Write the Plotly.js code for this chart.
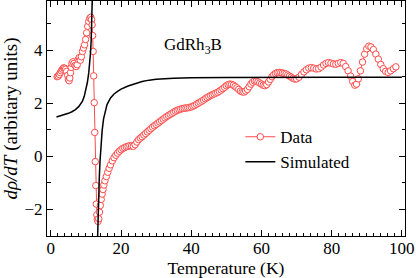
<!DOCTYPE html>
<html>
<head>
<meta charset="utf-8">
<script src="https://cdn.plot.ly/plotly-3.0.1.min.js"></script>
<style>html,body{margin:0;padding:0;background:#fff;}#chart{width:416px;height:278px;}</style>
</head>
<body>
<div id="chart"></div>
<script>
// Measured data (temperature in K, dρ/dT in arbitrary units)
const dataT = [1.8,2.1,2.4,2.7,3.0,3.3,3.6,3.9,4.2,4.5,4.8,5.0,5.2,5.4,5.6,5.8,6.0,6.3,6.6,6.9,7.2,7.5,7.8,8.1,8.4,8.7,9.0,9.3,9.6,9.9,10.2,10.5,10.8,11.1,11.4,11.6,11.75,11.9,12.05,12.2,12.35,12.5,12.65,12.8,12.95,13.1,13.25,13.45,13.65,13.85,14.1,14.35,14.6,14.85,15.1,15.4,15.8,16.2,16.6,17.0,17.5,18.0,18.5,19.0,19.5,20.0,20.5,21.0,21.5,22.0,22.5,23.0,23.5,24.0,24.5,25.0,25.5,26.0,26.5,27.0,27.5,28.0,28.5,29.0,29.5,30.0,30.5,31.0,31.5,32.0,32.5,33.0,33.5,34.0,34.5,35.0,35.5,36.0,36.5,37.0,37.5,38.0,38.5,39.0,39.5,40.0,40.5,41.0,41.5,42.0,42.5,43.0,43.5,44.0,44.5,45.0,45.5,46.0,46.5,47.0,47.5,48.0,48.5,49.0,49.5,50.0,50.5,51.0,51.5,52.0,52.5,53.0,53.5,54.0,54.5,55.0,55.5,56.0,56.5,57.0,57.5,58.0,58.5,59.0,59.5,60.0,60.5,61.0,61.5,62.0,62.5,63.0,63.5,64.0,64.5,65.0,65.5,66.0,66.5,67.0,67.5,68.0,68.5,69.0,69.5,70.0,70.7,71.4,72.1,72.8,73.5,74.2,74.9,75.6,76.3,77.0,77.7,78.4,79.1,79.8,80.5,81.2,81.9,82.6,83.3,84.0,84.7,85.4,86.0,86.6,87.1,87.6,88.2,88.8,89.4,90.0,90.6,91.2,91.9,92.6,93.3,94.0,94.7,95.4,96.1,96.8,97.6,98.3,99.0,99.8];
const dataY = [3.00,3.02,3.08,3.15,3.22,3.28,3.33,3.32,3.28,3.20,3.05,2.90,2.85,2.95,3.15,3.35,3.50,3.56,3.50,3.42,3.38,3.45,3.65,3.72,3.62,3.75,3.95,4.08,4.20,4.40,4.65,4.90,5.08,5.20,5.24,5.15,4.95,4.55,3.95,3.03,2.02,0.90,-0.20,-1.10,-1.80,-2.20,-2.38,-2.45,-2.35,-2.10,-1.85,-1.62,-1.42,-1.25,-1.08,-0.92,-0.76,-0.60,-0.45,-0.32,-0.17,-0.05,0.04,0.12,0.19,0.25,0.30,0.33,0.36,0.38,0.40,0.39,0.38,0.44,0.54,0.63,0.69,0.74,0.80,0.86,0.92,0.98,1.04,1.10,1.15,1.20,1.25,1.30,1.35,1.40,1.45,1.50,1.54,1.58,1.62,1.66,1.70,1.73,1.76,1.78,1.80,1.81,1.82,1.83,1.84,1.86,1.89,1.92,1.96,2.00,2.04,2.08,2.12,2.17,2.21,2.25,2.29,2.32,2.35,2.38,2.41,2.45,2.50,2.55,2.60,2.66,2.70,2.72,2.71,2.68,2.63,2.58,2.52,2.46,2.43,2.42,2.46,2.52,2.62,2.72,2.79,2.84,2.83,2.80,2.76,2.72,2.68,2.66,2.70,2.80,2.90,3.00,3.07,3.12,3.15,3.16,3.15,3.14,3.12,3.10,3.06,3.02,2.98,2.94,2.91,2.92,2.98,3.08,3.18,3.26,3.32,3.34,3.32,3.29,3.30,3.36,3.44,3.50,3.53,3.51,3.48,3.47,3.50,3.53,3.50,3.38,3.22,3.02,2.82,2.68,2.72,2.92,3.22,3.55,3.85,4.05,4.15,4.12,4.02,3.85,3.66,3.46,3.30,3.20,3.16,3.22,3.30,3.37];

// Simulated curve (null marks the divergence near the transition)
const simT = [1.6,3,4,5,6,7,8,8.5,9,9.5,10,10.4,10.8,11.1,11.3,11.5,11.7,11.85,12.0,null,13.2,13.35,13.5,13.65,13.8,14.0,14.3,14.6,15.0,15.5,16,17,18,19,20,22,24,26,28,30,35,40,50,60,70,80,90,100];
const simY = [1.48,1.53,1.57,1.62,1.68,1.76,1.88,1.97,2.08,2.25,2.50,2.78,3.15,3.50,3.90,4.40,5.10,5.90,7.00,null,-3.60,-2.70,-2.00,-1.40,-0.80,-0.20,0.45,0.95,1.40,1.75,1.95,2.20,2.35,2.45,2.53,2.65,2.75,2.82,2.87,2.90,2.94,2.96,2.97,2.98,2.98,2.98,2.98,2.98];

const xTickVals = [0,20,40,60,80,100];
const yTickVals = [-2,0,2,4];
const sampleLabel = 'GdRh<sub>3</sub>B';

const RED = '#ff4a4a';
const FONT = 'Liberation Serif, Times New Roman, serif';

const traces = [
  {x: dataT, y: dataY, name: 'Data', type: 'scatter', mode: 'lines+markers',
   line: {color: RED, width: 1},
   marker: {symbol: 'circle', size: 6.5, color: '#ffffff', line: {color: RED, width: 1}}},
  {x: simT, y: simY, name: 'Simulated', type: 'scatter', mode: 'lines',
   connectgaps: false, line: {color: '#000000', width: 1.5}}
];

const axisCommon = {
  showgrid: false, zeroline: false, showline: true, linecolor: '#000', linewidth: 1,
  mirror: 'allticks', ticks: 'inside', ticklen: 6, tickwidth: 1, tickcolor: '#000',
  tickfont: {family: FONT, size: 17, color: '#000'}
};

const layout = {
  width: 416, height: 278,
  margin: {l: 47, r: 11, t: 1, b: 42},
  paper_bgcolor: '#fff', plot_bgcolor: '#fff',
  font: {family: FONT, size: 17, color: '#000'},
  showlegend: true,
  legend: {x: 0.54, y: 0.497, xanchor: 'left', yanchor: 'top', bgcolor: 'rgba(0,0,0,0)',
           font: {family: FONT, size: 17, color: '#000'}, tracegroupgap: 0, itemwidth: 30},
  xaxis: Object.assign({}, axisCommon, {
    range: [-1.1, 100.9], tickvals: xTickVals, ticklabelstandoff: -3,
    minor: {dtick: 2, ticklen: 3.5, ticks: 'inside', tickcolor: '#000', tickwidth: 1},
    title: {text: 'Temperature (K)', font: {family: FONT, size: 17.5, color: '#000'}, standoff: 2}
  }),
  yaxis: Object.assign({}, axisCommon, {
    range: [-3.0, 5.85], tickvals: yTickVals,
    minor: {dtick: 1, ticklen: 3.5, ticks: 'inside', tickcolor: '#000', tickwidth: 1},
    title: {text: '<i>d\u03c1/dT</i> (arbitary units)', font: {family: FONT, size: 19, color: '#000'}, standoff: 4}
  }),
  annotations: [
    {x: 40.6, y: 4.16, xref: 'x', yref: 'y', text: sampleLabel, showarrow: false,
     font: {family: FONT, size: 17, color: '#000'}}
  ]
};

Plotly.newPlot('chart', traces, layout, {displayModeBar: false, staticPlot: true});
</script>
</body>
</html>
